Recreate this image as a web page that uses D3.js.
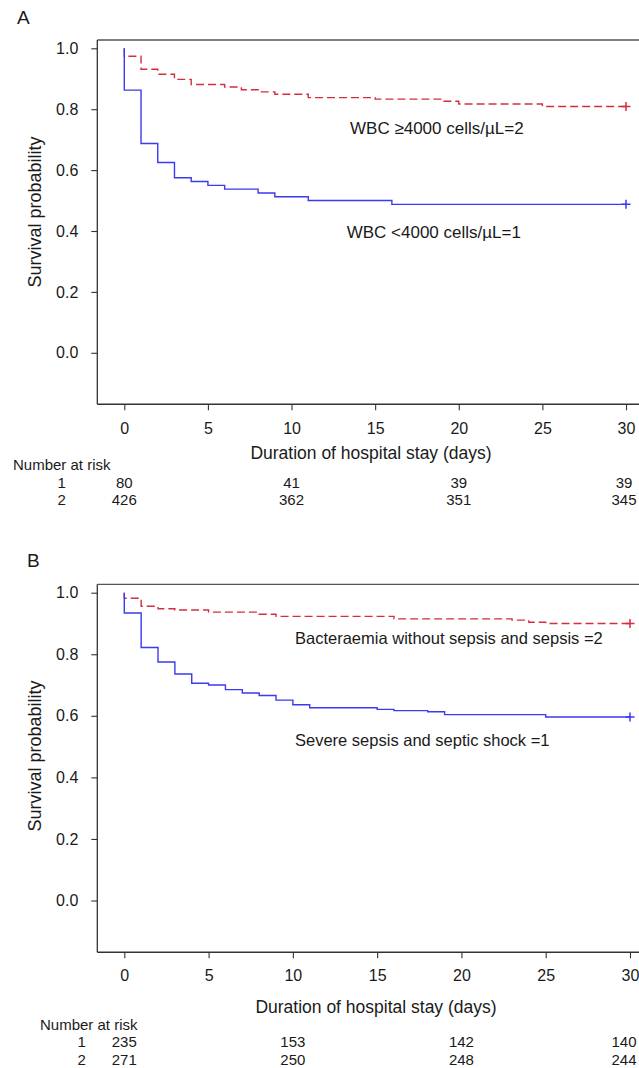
<!DOCTYPE html>
<html>
<head>
<meta charset="utf-8">
<script src="https://cdn.jsdelivr.net/npm/d3@7"></script>
<style>
  html, body { margin: 0; padding: 0; background: #fff; }
  svg { display: block; }
  text { font-family: "Liberation Sans", Arial, sans-serif; fill: #1a1a1a; }
</style>
</head>
<body>
<svg id="chart" width="639" height="1068"></svg>
<script>
// ---------- DATA ----------
const xTicks = [0, 5, 10, 15, 20, 25, 30];
const yTicks = [0.0, 0.2, 0.4, 0.6, 0.8, 1.0];
const riskDays = [0, 10, 20, 30];

// Panel A
const daysA_low  = [0, 1, 2, 3, 4, 5, 6, 8, 9, 11, 16];
const survA_low  = [0.8625, 0.6875, 0.625, 0.575, 0.5625, 0.55, 0.5375, 0.525, 0.5125, 0.50, 0.4875];
const daysA_high = [0, 1, 2, 3, 4, 6, 7, 8, 9, 11, 15, 19, 20, 25];
const survA_high = [0.974, 0.931, 0.915, 0.898, 0.881, 0.873, 0.864, 0.857, 0.849, 0.838, 0.833, 0.826, 0.817, 0.809];
const riskA_1 = [80, 41, 39, 39];
const riskA_2 = [426, 362, 351, 345];
const labelA_high = "WBC \u22654000 cells/\u00B5L=2";
const labelA_low  = "WBC <4000 cells/\u00B5L=1";

// Panel B
const daysB_severe = [0, 1, 2, 3, 4, 5, 6, 7, 8, 9, 10, 11, 15, 16, 18, 19, 25];
const survB_severe = [0.934, 0.822, 0.775, 0.736, 0.706, 0.700, 0.685, 0.674, 0.666, 0.651, 0.636, 0.626, 0.621, 0.617, 0.613, 0.604, 0.596];
const daysB_mild = [0, 1, 2, 3, 5, 8, 9, 16, 23, 24, 25];
const survB_mild = [0.982, 0.956, 0.948, 0.944, 0.937, 0.930, 0.923, 0.915, 0.911, 0.904, 0.900];
const riskB_1 = [235, 153, 142, 140];
const riskB_2 = [271, 250, 248, 244];
const labelB_mild   = "Bacteraemia without  sepsis and sepsis =2";
const labelB_severe = "Severe sepsis  and septic shock =1";

const xTitle = "Duration of hospital stay (days)";
const yTitle = "Survival  probability";

// ---------- DRAW ----------
const svg = d3.select("#chart");
const RED = "#d22f3e", BLUE = "#3a3af2";

function panel(o) {
  const g = svg.append("g");
  const x = d3.scaleLinear().domain([0, 30]).range([124.3, o.x30]);
  const y = d3.scaleLinear().domain([0, 1]).range([o.y0, o.y1]);

  // panel letter
  g.append("text").attr("x", o.letterX).attr("y", o.letterY)
    .style("font-size", "19px").text(o.letter);

  // top border
  g.append("line").attr("x1", 97.3).attr("x2", 639).attr("y1", o.top).attr("y2", o.top)
    .attr("stroke", "#555").attr("stroke-width", 1.3);

  // y axis
  const ya = g.append("g").attr("transform", `translate(97.3,0)`)
    .call(d3.axisLeft(y).tickValues(yTicks).tickFormat(d3.format(".1f")).tickSize(6).tickPadding(13));
  ya.select(".domain").remove();
  ya.append("line").attr("x1", 0).attr("x2", 0).attr("y1", o.top).attr("y2", o.bottom)
    .attr("stroke", "#333").attr("stroke-width", 1.3);
  ya.selectAll(".tick line").attr("stroke", "#333").attr("stroke-width", 1.1);
  ya.selectAll("text").style("font-size", "16px").style("font-family", "Liberation Sans, Arial, sans-serif").attr("fill", "#1a1a1a");

  // x axis
  const xa = g.append("g").attr("transform", `translate(0,${o.bottom})`)
    .call(d3.axisBottom(x).tickValues(xTicks).tickSize(6).tickPadding(o.xPad));
  xa.select(".domain").remove();
  xa.append("line").attr("x1", 97.3).attr("x2", 639).attr("y1", 0).attr("y2", 0)
    .attr("stroke", "#333").attr("stroke-width", 1.5);
  xa.selectAll(".tick line").attr("stroke", "#333").attr("stroke-width", 1.1);
  xa.selectAll("text").style("font-size", "16px").style("font-family", "Liberation Sans, Arial, sans-serif").attr("fill", "#1a1a1a");

  // axis titles
  g.append("text").attr("x", o.xTitleX).attr("y", o.xTitleY)
    .attr("text-anchor", "middle").attr("dominant-baseline", "central")
    .style("font-size", "17.5px").text(xTitle);
  g.append("text").attr("transform", `translate(35,${o.yTitleY}) rotate(-90)`)
    .attr("text-anchor", "middle").attr("dominant-baseline", "central")
    .style("font-size", "18px").text(yTitle);

  // curves
  const line = d3.line().x(d => x(d[0])).y(d => y(d[1])).curve(d3.curveStepAfter);
  o.series.forEach(s => {
    const pts = [[0, 1]].concat(s.days.map((d, i) => [d, s.surv[i]]));
    pts.push([30, s.surv[s.surv.length - 1]]);
    g.append("path").datum(pts).attr("d", line)
      .attr("fill", "none").attr("stroke", s.color).attr("stroke-width", 1.4)
      .attr("stroke-dasharray", s.dash || null);
    const cx = x(30), cy = y(s.surv[s.surv.length - 1]);
    g.append("path").attr("d", `M${cx - 4.5},${cy}H${cx + 4.5}M${cx},${cy - 4.5}V${cy + 4.5}`)
      .attr("stroke", s.color).attr("stroke-width", 1.5);
    g.append("text").attr("x", s.lx).attr("y", s.ly).attr("dominant-baseline", "central")
      .style("font-size", s.fs + "px").text(s.label);
  });

  // number at risk
  g.append("text").attr("x", o.nrX).attr("y", o.nrY).attr("dominant-baseline", "central")
    .style("font-size", "15px").text("Number  at risk");
  o.risk.forEach((r, k) => {
    const ry = o.nrY + 17.8 * (k + 1);
    g.append("text").attr("x", o.grpX).attr("y", ry).attr("text-anchor", "middle")
      .attr("dominant-baseline", "central").style("font-size", "15px").text(k + 1);
    g.selectAll(null).data(riskDays).enter().append("text")
      .attr("x", d => Math.min(x(d), 624)).attr("y", ry).attr("text-anchor", "middle")
      .attr("dominant-baseline", "central").style("font-size", "15px")
      .text((d, i) => r[i]);
  });
}

panel({
  letter: "A", letterX: 17, letterY: 24,
  top: 40, bottom: 404.3, y0: 352.8, y1: 48.3, x30: 626, xPad: 12,
  xTitleX: 371, xTitleY: 453.3, yTitleY: 212,
  nrX: 13, nrY: 464.3, grpX: 61.7,
  series: [
    { days: daysA_high, surv: survA_high, color: RED, dash: "8,4", label: labelA_high, lx: 350, ly: 128.3, fs: 17 },
    { days: daysA_low, surv: survA_low, color: BLUE, label: labelA_low, lx: 346.7, ly: 232.7, fs: 17 }
  ],
  risk: [riskA_1, riskA_2]
});

panel({
  letter: "B", letterX: 27, letterY: 567,
  top: 584.3, bottom: 952.3, y0: 900.5, y1: 592.7, x30: 630, xPad: 11,
  xTitleX: 376, xTitleY: 1006.7, yTitleY: 756,
  nrX: 40, nrY: 1024, grpX: 81.7,
  series: [
    { days: daysB_mild, surv: survB_mild, color: RED, dash: "8,4", label: labelB_mild, lx: 295, ly: 638.3, fs: 16.5 },
    { days: daysB_severe, surv: survB_severe, color: BLUE, label: labelB_severe, lx: 295, ly: 740, fs: 16.5 }
  ],
  risk: [riskB_1, riskB_2]
});
</script>
</body>
</html>
